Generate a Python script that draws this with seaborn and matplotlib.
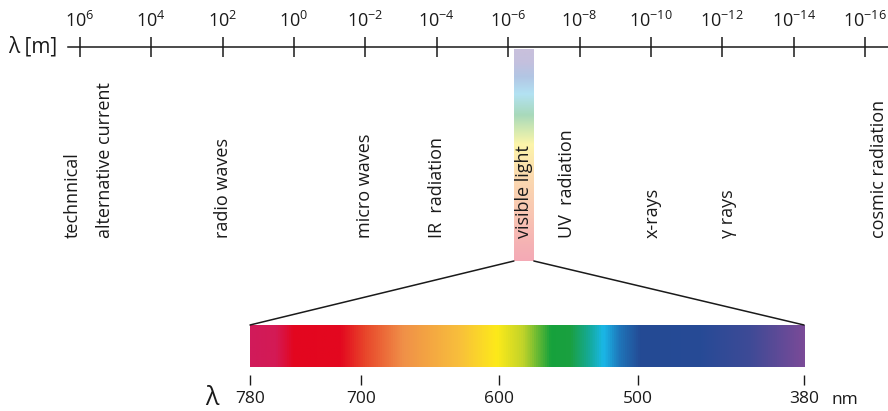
import numpy as np
import matplotlib
matplotlib.use("Agg")
import matplotlib.pyplot as plt
from matplotlib.colors import LinearSegmentedColormap
from matplotlib.patches import ConnectionPatch
import seaborn as sns

# wavelength scale (log10 of metres)
scale_exp = [6, 4, 2, 0, -2, -4, -6, -8, -10, -12, -14, -16]
scale_labels = [r"$\mathregular{10^{%d}}$" % e for e in scale_exp]

# band names and where they sit on the scale
band_names = ["technnical", "alternative current", "radio waves", "micro waves",
              "IR  radiation", "visible light", "UV  radiation", "x-rays",
              "\u03b3 rays", "cosmic radiation"]
band_pos = [6.2, 5.3, 2.0, -2.0, -4.0, -6.45, -7.65, -10.05, -12.15, -16.4]
visible_range = (-6.16, -6.72)

# pale band colours, top (short) to bottom (long)
vis_stops = [0.0, 0.06, 0.13, 0.21, 0.31, 0.39, 0.45, 0.60, 0.76, 0.92, 1.0]
vis_colors = ["#c9c0dc", "#c4c0de", "#b2c6e4", "#b3e2f3", "#a8d9bb", "#d8ebb0",
              "#fdf5aa", "#fbdab0", "#f9c8b2", "#f5b2b4", "#f4aab6"]

# visible spectrum detail
spec_ticks = [780, 700, 600, 500, 380]
spec_nm = [780, 762, 749, 715, 698, 670, 630, 602, 583, 563, 549, 535, 525, 513, 498, 455, 419, 380]
spec_colors = ["#d11a5a", "#d41a55", "#e3061f", "#e3081f", "#e8442a", "#f09048", "#f8be3c",
               "#fdea1a", "#c0d32a", "#16a23c", "#1aa040", "#15aa9a", "#1ab8e8", "#1f74b8",
               "#244a94", "#274b96", "#3e4a96", "#7a4b98"]

sns.set_theme(style="white")
plt.rcParams["font.family"] = ["Open Sans", "DejaVu Sans"]
plt.rcParams["mathtext.fontset"] = "custom"
plt.rcParams["mathtext.rm"] = "Open Sans"
plt.rcParams["mathtext.it"] = "Open Sans:italic"
ink = "#1a1a1a"

W, H = 888, 411
fig = plt.figure(figsize=(W / 100, H / 100), dpi=100)

# pixel <-> decade mapping for the top scale
px0, px_per_dec = 80, (865 - 80) / 22
def to_exp(px):
    return 6 - (px - px0) / px_per_dec

# background axes in scale units (x) and pixel rows (y)
ax = fig.add_axes([0, 0, 1, 1])
ax.set_xlim(to_exp(0), to_exp(W))
ax.set_ylim(H, 0)
ax.axis("off")

# top log scale
ax_top = fig.add_axes([68 / W, 1 - 47 / H, 1 - 68 / W, 0.0005])
ax_top.set_xlim(to_exp(68), to_exp(W))
ax_top.set_facecolor("none")
for s in ["bottom", "left", "right"]:
    ax_top.spines[s].set_visible(False)
ax_top.spines["top"].set_color(ink)
ax_top.spines["top"].set_linewidth(1.1)
ax_top.xaxis.tick_top()
ax_top.set_xticks(scale_exp)
ax_top.set_xticklabels(scale_labels)
ax_top.set_yticks([])
ax_top.tick_params(axis="x", direction="inout", length=14.4, width=1.1, color=ink,
                   labelcolor=ink, labelsize=13, pad=4)
fig.text(33 / W, 1 - 47 / H, "\u03bb [m]", fontsize=15, color=ink, ha="center", va="center")

# colour maps
pos = [(780 - nm) / 400 for nm in spec_nm]
spec_cmap = LinearSegmentedColormap.from_list("spec", list(zip(pos, spec_colors)))
vis_cmap = LinearSegmentedColormap.from_list("vis", list(zip(vis_stops, vis_colors)))

# pale visible band on the scale
vis_top, vis_bottom = 50, 261
grad = np.linspace(0, 1, 256).reshape(-1, 1)
ax.imshow(grad, extent=(visible_range[0], visible_range[1], vis_bottom, vis_top),
          origin="upper", cmap=vis_cmap, aspect="auto", zorder=1)

# band names
for name, x in zip(band_names, band_pos):
    ax.text(x, 238, name, rotation=90, ha="center", va="bottom", fontsize=13,
            color=ink, zorder=3)

# detailed spectrum
ax_spec = fig.add_axes([250 / W, 1 - 367 / H, 554 / W, 42 / H])
ax_spec.imshow(np.linspace(0, 1, 512).reshape(1, -1), extent=(780, 380, 0, 1),
               cmap=spec_cmap, aspect="auto")
ax_spec.set_xlim(780, 380)
ax_spec.set_ylim(0, 1)
for s in ["top", "left", "right", "bottom"]:
    ax_spec.spines[s].set_visible(False)
ax_spec.spines["bottom"].set_position(("outward", 5.8))
ax_spec.set_xticks(spec_ticks)
ax_spec.set_yticks([])
ax_spec.tick_params(axis="x", bottom=True, direction="out", length=7.2, width=1,
                    color=ink, labelcolor=ink, labelsize=12.5, pad=4)
fig.text(212 / W, 1 - 398 / H, "\u03bb", fontsize=18, color=ink, ha="center", va="center")
fig.text(845 / W, 1 - 400 / H, "nm", fontsize=12.5, color=ink, ha="center", va="center")

# zoom lines from the visible band to the spectrum
for vx, nm in [(visible_range[0], 780), (visible_range[1], 380)]:
    con = ConnectionPatch(xyA=(nm, 1), coordsA=ax_spec.transData,
                          xyB=(vx, vis_bottom), coordsB=ax.transData,
                          color=ink, linewidth=1.1)
    fig.add_artist(con)

fig.savefig("out.png", dpi=100)
